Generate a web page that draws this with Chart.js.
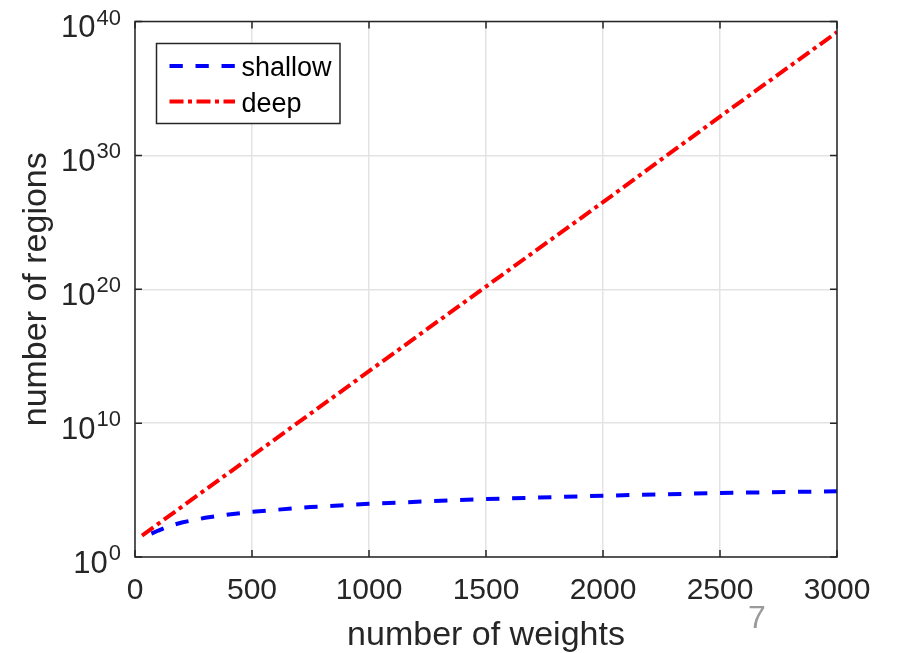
<!DOCTYPE html>
<html><head><meta charset="utf-8">
<script src="https://cdn.jsdelivr.net/npm/chart.js@4.4.1/dist/chart.umd.min.js"></script>
<style>html,body{margin:0;padding:0;background:#fff;}#wrap{position:relative;width:897px;height:653px;}</style>
</head><body><div id="wrap"><canvas id="c" width="897" height="653"></canvas></div>
<script>
// ---- data ----
const seriesNames = ['shallow', 'deep'];
const shallowWeights = [70, 100, 150, 200, 300, 400, 500, 750, 1000, 1500, 2000, 2500, 3000];
const shallowRegions = [56, 95, 214, 380, 850, 1510, 2400, 5400, 9550, 21400, 38000, 60300, 81300];
const deepWeights = [30, 500, 1000, 1500, 2000, 2500, 3000];
const deepRegions = [4.0e1, 3.5e7, 7.6e13, 1.6e20, 3.2e26, 7.9e32, 1.6e39];
const xTicks = [0, 500, 1000, 1500, 2000, 2500, 3000];
const yTickExponents = [0, 10, 20, 30, 40];
const xTitle = 'number of weights';
const yTitle = 'number of regions';
const pageNumber = '7';

const FONT = '"Liberation Sans", Arial, Helvetica, sans-serif';
const INK = '#262626';

const toPoints = (xs, ys) => xs.map((x, i) => ({x: x, y: ys[i]}));

const decorPlugin = {
  id: 'decor',
  afterDraw(chart) {
    const ctx = chart.ctx, a = chart.chartArea, xs = chart.scales.x, ys = chart.scales.y;
    ctx.save();
    // axes box
    ctx.strokeStyle = INK; ctx.lineWidth = 1.5;
    ctx.strokeRect(a.left, a.top, a.right - a.left, a.bottom - a.top);
    // inward ticks
    ctx.beginPath();
    xs.ticks.forEach(t => {
      const p = xs.getPixelForValue(t.value);
      ctx.moveTo(p, a.bottom); ctx.lineTo(p, a.bottom - 7);
      ctx.moveTo(p, a.top); ctx.lineTo(p, a.top + 7);
    });
    ys.ticks.forEach(t => {
      const p = ys.getPixelForValue(t.value);
      ctx.moveTo(a.left, p); ctx.lineTo(a.left + 7, p);
      ctx.moveTo(a.right, p); ctx.lineTo(a.right - 7, p);
    });
    ctx.stroke();
    // y tick labels 10^n
    ctx.fillStyle = INK; ctx.textAlign = 'right'; ctx.textBaseline = 'alphabetic';
    ys.ticks.forEach(t => {
      const p = ys.getPixelForValue(t.value);
      const e = String(Math.round(Math.log10(t.value)));
      ctx.font = '22px ' + FONT;
      const ew = ctx.measureText(e).width;
      ctx.fillText(e, a.left - 14, p + 3);
      ctx.font = '31px ' + FONT;
      ctx.fillText('10', a.left - 15 - ew, p + 15.5);
    });
    // legend
    const lx = 156.5, ly = 43.5, lw = 183.5, lh = 80;
    ctx.fillStyle = '#fff'; ctx.fillRect(lx, ly, lw, lh);
    ctx.strokeStyle = INK; ctx.lineWidth = 1.5; ctx.strokeRect(lx, ly, lw, lh);
    const baselines = [76, 111.5];
    chart.data.datasets.forEach((ds, i) => {
      const b = baselines[i];
      ctx.save();
      ctx.strokeStyle = ds.borderColor; ctx.lineWidth = ds.borderWidth;
      ctx.setLineDash(ds.borderDash || []);
      ctx.beginPath(); ctx.moveTo(169.5, b - 10); ctx.lineTo(235, b - 10); ctx.stroke();
      ctx.restore();
      ctx.fillStyle = '#000'; ctx.textAlign = 'left'; ctx.font = '27px ' + FONT;
      ctx.fillText(ds.label, 241.5, b);
    });
    // page number
    ctx.fillStyle = '#9a9a9a'; ctx.textAlign = 'center'; ctx.font = '32px ' + FONT;
    ctx.fillText(pageNumber, 757, 628);
    ctx.restore();
  }
};

new Chart(document.getElementById('c'), {
  type: 'line',
  data: {
    datasets: [
      {label: seriesNames[0], data: toPoints(shallowWeights, shallowRegions),
       borderColor: '#0000ff', borderWidth: 4, borderDash: [13.3, 12.7], pointRadius: 0, fill: false, tension: 0},
      {label: seriesNames[1], data: toPoints(deepWeights, deepRegions),
       borderColor: '#ff0000', borderWidth: 4, borderDash: [14, 4.5, 4, 4.5], pointRadius: 0, fill: false, tension: 0}
    ]
  },
  options: {
    responsive: false, animation: false, maintainAspectRatio: false,
    layout: {padding: {left: 0, right: 60, top: 21.5, bottom: 0}},
    plugins: {legend: {display: false}, tooltip: {enabled: false}},
    scales: {
      x: {
        type: 'linear', min: 0, max: 3000,
        afterBuildTicks: s => { s.ticks = xTicks.map(v => ({value: v})); },
        afterFit: s => { s.height = 96; },
        grid: {color: '#e3e3e3', lineWidth: 1.5, drawTicks: false},
        border: {display: false},
        ticks: {padding: 16, color: INK, font: {family: FONT, size: 30}, maxRotation: 0,
                callback: v => String(v)},
        title: {display: true, text: xTitle, color: INK, font: {family: FONT, size: 34, lineHeight: 1.0}, padding: 0}
      },
      y: {
        type: 'logarithmic', min: 1, max: 1e40,
        afterBuildTicks: s => { s.ticks = yTickExponents.map(e => ({value: Math.pow(10, e)})); },
        afterFit: s => { s.width = 135; },
        grid: {color: '#e3e3e3', lineWidth: 1.5, drawTicks: false},
        border: {display: false},
        ticks: {display: false},
        title: {display: true, text: yTitle, color: INK, font: {family: FONT, size: 34, lineHeight: 1.0}, padding: 20}
      }
    }
  },
  plugins: [decorPlugin]
});
</script></body></html>
